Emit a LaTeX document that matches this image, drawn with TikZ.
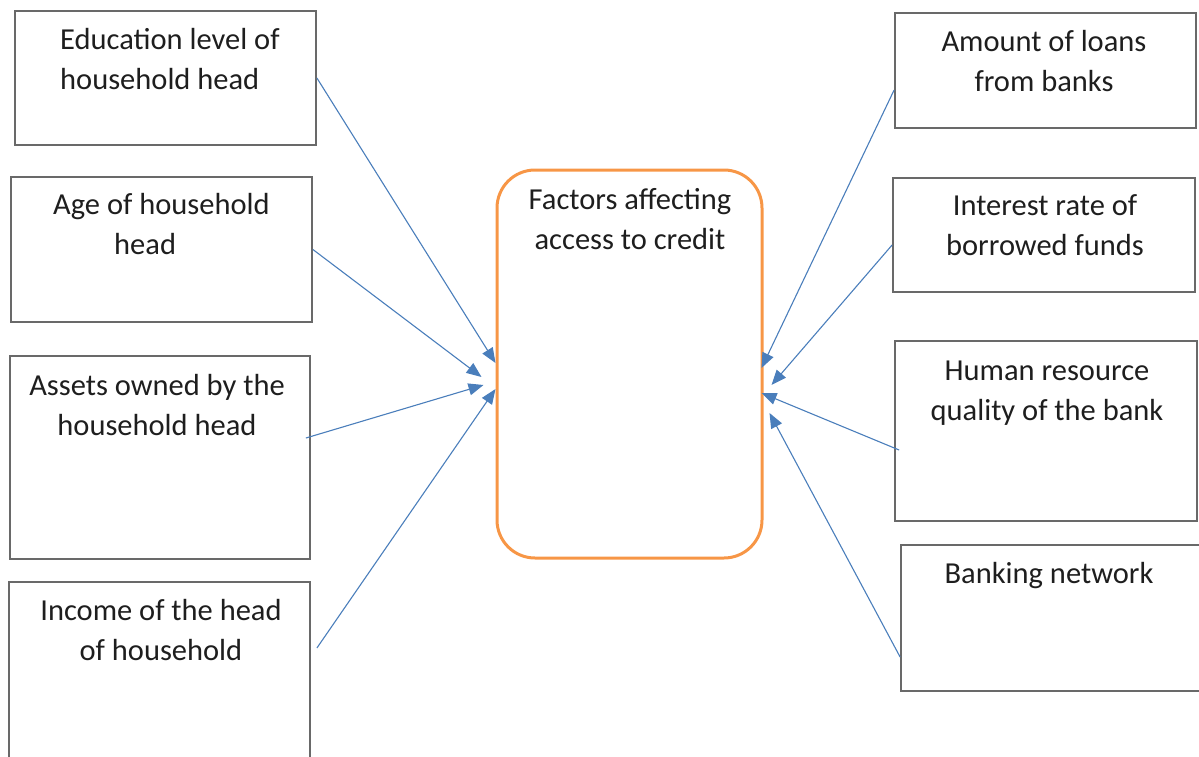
\documentclass[tikz,border=0pt]{standalone}
\usepackage{fontspec}
\setmainfont{Carlito}
\usetikzlibrary{arrows.meta}
\definecolor{boxgray}{RGB}{105,105,105}
\definecolor{linkblue}{RGB}{74,126,187}
\definecolor{orangeline}{RGB}{247,150,70}
\definecolor{txt}{RGB}{30,30,30}
\tikzset{
  box/.style={draw=boxgray, line width=1.8pt, inner sep=0pt, fill=none},
  ctrbox/.style={draw=orangeline, line width=3pt, rounded corners=38pt, inner sep=0pt},
  label/.style={inner sep=0pt, text=txt, font=\fontsize{30.5}{40}\selectfont},
  link/.style={draw=linkblue, line width=1.1pt, -{Triangle[length=15pt,width=12pt]}}
}
\begin{document}
\begin{tikzpicture}[x=1pt,y=-1pt]
\useasboundingbox (0,0) rectangle (1199,757);
% boxes
\node[box, minimum width=301pt, minimum height=134pt] (edu) at (165.5,78) {};
\node[box, minimum width=301pt, minimum height=145pt] (age) at (161.5,249.5) {};
\node[box, minimum width=300pt, minimum height=203pt] (assets) at (160,457.5) {};
\node[box, minimum width=301pt, minimum height=188pt] (income) at (159.5,676) {};
\node[box, minimum width=301pt, minimum height=115pt] (amount) at (1045.5,70.5) {};
\node[box, minimum width=302pt, minimum height=114pt] (interest) at (1044,235) {};
\node[box, minimum width=302pt, minimum height=180pt] (human) at (1046,431) {};
\node[box, minimum width=309pt, minimum height=146pt] (banking) at (1055.5,618) {};
\node[ctrbox, minimum width=265pt, minimum height=388pt] (ctr) at (629.5,364) {};
% texts
\node[label, anchor=west, align=left] (tedu) at (60,61.5) {\strut Education level of\\\strut household head};
\node[label, anchor=west, align=left] (tage) at (53,226.5) {\strut Age of household\\\strut\hspace*{61pt}head};
\node[label, align=center] (tassets) at (157,407) {\strut Assets owned by the\\\strut household head};
\node[label, align=center] (tincome) at (161,632.5) {\strut Income of the head\\\strut of household};
\node[label, align=center] (tamount) at (1044,64) {\strut Amount of loans\\\strut from banks};
\node[label, align=center] (tinterest) at (1045,227.5) {\strut Interest rate of\\\strut borrowed funds};
\node[label, align=center] (thuman) at (1047,392) {\strut Human resource\\\strut quality of the bank};
\node[label, align=center] (tbanking) at (1049,575) {\strut Banking network};
\node[label, align=center] (tctr) at (630,221) {\strut Factors affecting\\\strut access to credit};
% connectors
\draw[link] (edu.east) -- ([yshift=1pt]ctr.west);
\draw[link] (age.east) -- ([xshift=-14pt,yshift=-13pt]ctr.west);
\draw[link] ([xshift=-5pt,yshift=19.5pt]assets.east) -- ([xshift=-12pt,yshift=-21pt]ctr.west);
\draw[link] ([xshift=6pt,yshift=28pt]income.east) -- ([yshift=-25pt]ctr.west);
\draw[link] ([yshift=-19.5pt]amount.west) -- ([xshift=-2pt,yshift=-4pt]ctr.east);
\draw[link] ([yshift=-10pt]interest.west) -- ([xshift=8pt,yshift=-21pt]ctr.east);
\draw[link] ([xshift=5pt,yshift=-19pt]human.west) -- ([xshift=-2pt,yshift=-29pt]ctr.east);
\draw[link] ([yshift=-39pt]banking.west) -- ([xshift=6pt,yshift=-49pt]ctr.east);
\end{tikzpicture}
\end{document}
